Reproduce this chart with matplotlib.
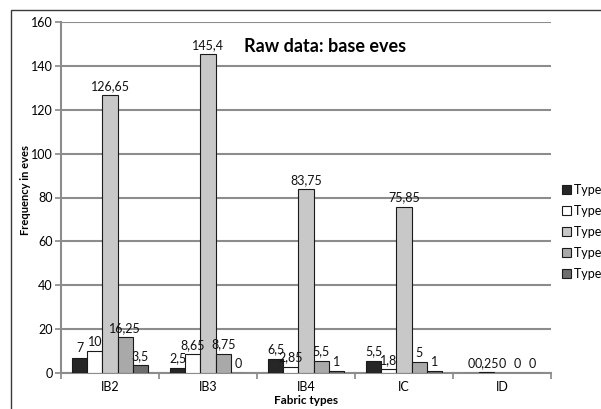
import numpy as np
import matplotlib.pyplot as plt
from matplotlib.patches import Rectangle

plt.rcParams['font.family'] = ['Lato', 'DejaVu Sans']

categories = ['IB2', 'IB3', 'IB4', 'IC', 'ID']
series_names = ['Type A', 'Type B', 'Type C', 'Type D', 'Type E']
type_a = [7, 2.5, 6.5, 5.5, 0]
type_b = [10, 8.65, 2.85, 1.8, 0.25]
type_c = [126.65, 145.4, 83.75, 75.85, 0]
type_d = [16.25, 8.75, 5.5, 5, 0]
type_e = [3.5, 0, 1, 1, 0]
series = [type_a, type_b, type_c, type_d, type_e]
colors = ['#262626', '#ffffff', '#c8c8c8', '#a9a9a9', '#6e6e6e']

fig = plt.figure(figsize=(6.01, 4.09), dpi=100)
ax = fig.add_axes([61/601, 1 - 373/409, 490/601, 351/409])

# outer chart border (cut off at right/bottom)
fig.patches.append(Rectangle((11/601, -0.2), 1.2, 1 - 10/409 + 0.2,
                             transform=fig.transFigure, fill=False,
                             edgecolor='#3a3a3a', linewidth=1.0))

x = np.arange(len(categories))
w = 0.155
for i, (vals, name, c) in enumerate(zip(series, series_names, colors)):
    pos = x + (i - 2) * w
    ax.bar(pos, vals, width=w, color=c, edgecolor='#1a1a1a', linewidth=0.8,
           label=name, zorder=3)
    for px, v in zip(pos, vals):
        ax.text(px, v + 1.5, '{:g}'.format(v).replace('.', ','),
                ha='center', va='bottom', fontsize=9, color='#111111', zorder=4)

ax.set_xlim(-0.5, len(categories) - 0.5)
ax.set_ylim(0, 160)
ax.set_yticks(range(0, 161, 20))
ax.set_xticks(x)
ax.set_xticklabels(categories)
ax.set_xticks(np.arange(-0.5, len(categories), 1), minor=True)
ax.tick_params(axis='x', which='major', length=0, labelsize=9, pad=6)
ax.tick_params(axis='x', which='minor', length=4, color='#888888', width=1.2)
ax.tick_params(axis='y', length=4, color='#888888', width=1.2, labelsize=9, pad=2)
ax.yaxis.grid(True, color='#8c8c8c', linewidth=1.5, zorder=0)
for s in ['top', 'right']:
    ax.spines[s].set_visible(False)
for s in ['left', 'bottom']:
    ax.spines[s].set_color('#8c8c8c')
    ax.spines[s].set_linewidth(1.5)

ax.set_ylabel('Frequency in eves', fontsize=8, fontweight='bold')
ax.yaxis.set_label_coords(-0.062, 0.52)
ax.set_xlabel('Fabric types', fontsize=8.5, fontweight='bold', labelpad=1)
ax.text(0.539, 0.929, 'Raw data: base eves', transform=ax.transAxes,
        ha='center', va='center', fontsize=13, fontweight='bold')

fig.legend(loc='upper left', bbox_to_anchor=(557/601, 1 - 179/409),
           frameon=False, fontsize=9, handlelength=0.7, handleheight=0.7,
           handletextpad=0.3, labelspacing=0.72, borderaxespad=0)

plt.savefig('out.png', dpi=100)
